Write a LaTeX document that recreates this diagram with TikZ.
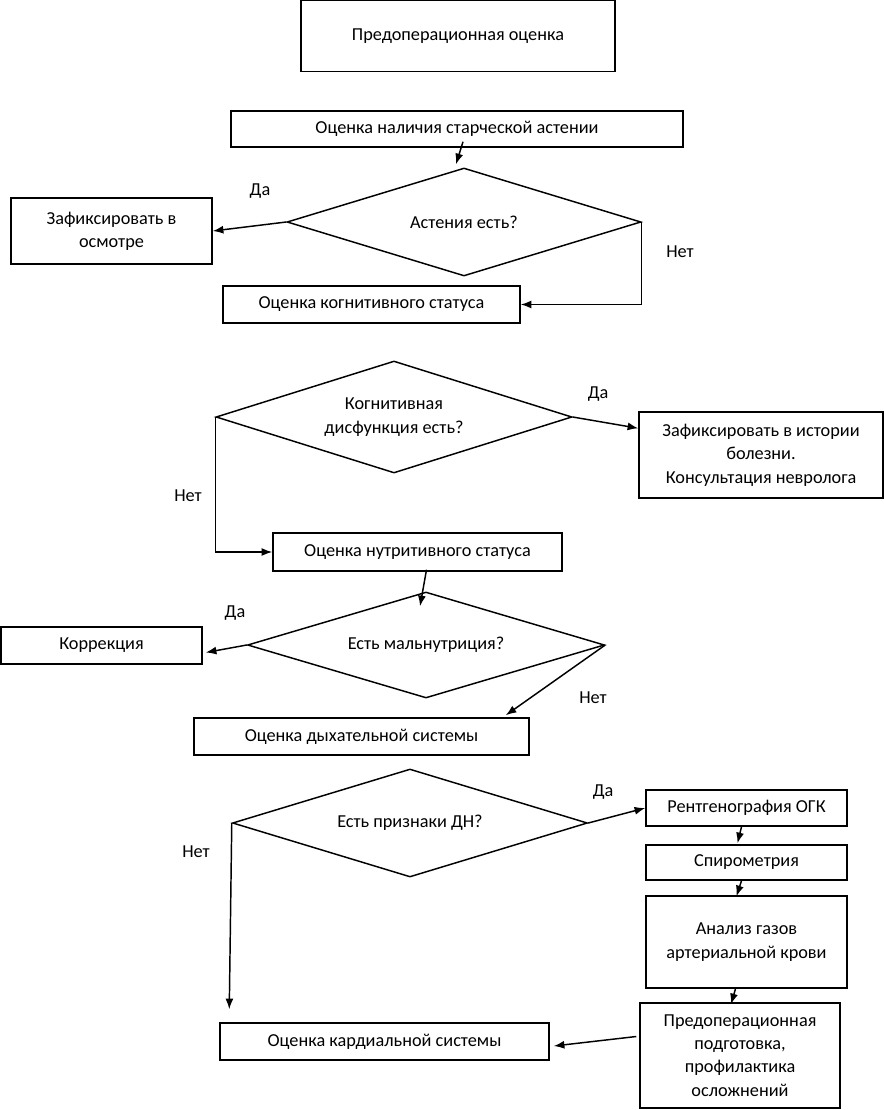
\documentclass[tikz,border=0pt]{standalone}
\usepackage{fontspec}
\setmainfont{Carlito}
\usetikzlibrary{shapes.geometric,arrows.meta,calc}
\begin{document}
\begin{tikzpicture}[x=0.75pt,y=-0.75pt,
  every node/.style={font=\fontsize{13.7pt}{17.5pt}\selectfont},
  wh/.style 2 args={minimum width=#1*0.75pt,minimum height=#2*0.75pt},
  box/.style={draw,line width=1.1pt,inner sep=0pt,align=center},
  dia/.style={draw,diamond,line width=1.1pt,inner sep=0pt,align=center},
  lbl/.style={inner sep=0pt},
  arr/.style={line width=1.1pt,-{Latex[length=8pt,width=6pt]}},
  ln/.style={line width=1.1pt}]
\useasboundingbox (0,0) rectangle (884,1110);

% boxes
\node[box,wh={314}{71}] (b0) at (458,36) {Предоперационная оценка};
\node[box,wh={452}{36}] (b1) at (457,129) {Оценка наличия старческой астении};
\node[dia,wh={354}{108},shape aspect=3.28] (d1) at (464,222) {Астения есть?};
\node[box,wh={201}{66}] (bz) at (111.5,231) {Зафиксировать в\\осмотре};
\node[box,wh={297}{37}] (b2) at (371.5,304.5) {Оценка когнитивного статуса};
\node[dia,wh={356}{112},shape aspect=3.18] (d2) at (394,417) {Когнитивная\\дисфункция есть?};
\node[box,wh={244}{86}] (bk) at (761,455) {Зафиксировать в истории\\болезни.\\Консультация невролога};
\node[box,wh={289}{38}] (b3) at (417.5,552) {Оценка нутритивного статуса};
\node[dia,wh={357}{106},shape aspect=3.37] (d3) at (426,645) {Есть мальнутриция?};
\node[box,wh={201}{37}] (bc) at (101.5,645.5) {Коррекция};
\node[box,wh={335}{37}] (b4) at (361.5,736.5) {Оценка дыхательной системы};
\node[dia,wh={355}{108},shape aspect=3.29] (d4) at (410,823) {Есть признаки ДН?};
\node[box,wh={201}{36}] (br) at (746.5,808) {Рентгенография ОГК};
\node[box,wh={201}{35}] (bs) at (746.5,862.5) {Спирометрия};
\node[box,wh={201}{92}] (ba) at (746.5,942) {Анализ газов\\артериальной крови};
\node[box,wh={200}{105}] (bp) at (740,1055.5) {Предоперационная\\подготовка,\\профилактика\\осложнений};
\node[box,wh={329}{37}] (b5) at (384.5,1041.5) {Оценка кардиальной системы};

% labels
\node[lbl] (l1) at (260,191) {Да};
\node[lbl] (l2) at (680,252) {Нет};
\node[lbl] (l3) at (598,394) {Да};
\node[lbl] (l4) at (188,496) {Нет};
\node[lbl] (l5) at (235,613) {Да};
\node[lbl] (l6) at (593,698) {Нет};
\node[lbl] (l7) at (603,792) {Да};
\node[lbl] (l8) at (196,852) {Нет};

% connectors
\draw[arr] ($(b1.south)+(6,-6)$) -- ($(d1.north)+(-8,-3)$);
\draw[arr] (d1.west) -- (bz.east);
\draw[arr] (d1.east) |- (b2.east);
\draw[arr] (d2.east) -- ($(bk.north west)+(0,17)$);
\draw[arr] (d2.west) |- (b3.west);
\draw[arr] ($(b3.south)+(9,-2)$) -- ($(d3.north)+(-6,15)$);
\draw[arr] (d3.west) -- ($(bc.east)+(3,7)$);
\draw[arr] (d3.east) -- ($(b4.north east)+(-24,-2)$);
\draw[arr] (d4.east) -- (br.west);
\draw[arr] (d4.west) -- ($(b5.north west)+(10,-13)$);
\draw[arr] ($(br.south)+(-5,0)$) -- ($(bs.north)+(-9,-1)$);
\draw[arr] ($(bs.south)+(-5,0)$) -- ($(ba.north)+(-10,1)$);
\draw[arr] ($(ba.south)+(-11,0)$) -- ($(bp.north)+(-9,2)$);
\draw[arr] ($(bp.west)+(-3,-19)$) -- ($(b5.east)+(4,4.5)$);
\end{tikzpicture}
\end{document}
